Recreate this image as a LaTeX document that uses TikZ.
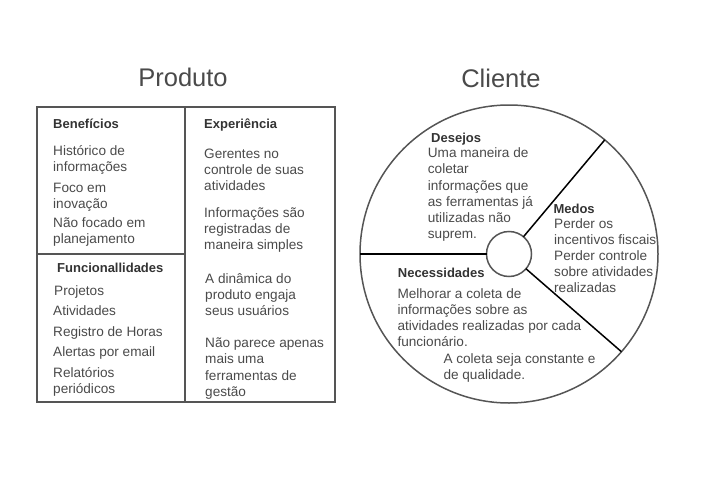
\documentclass[tikz,border=0pt]{standalone}
\usepackage{fontspec}
\setmainfont{Liberation Sans}
\usepackage{tikz}
\usetikzlibrary{positioning}
\definecolor{linegray}{HTML}{555555}
\definecolor{textgray}{HTML}{4A4A4A}
\definecolor{headgray}{HTML}{333333}
\newcommand{\lines}[1]{\begin{tabular}[t]{@{}l@{}}#1\end{tabular}}

\begin{document}
\begin{tikzpicture}[x=1pt, y=-1pt,
        title/.style={font=\fontsize{25.5}{30}\selectfont, color=textgray, inner sep=0},
        head/.style={anchor=base west, inner sep=0, font=\fontsize{13}{16}\selectfont\bfseries, color=headgray},
        item/.style={anchor=base west, inner sep=0, font=\fontsize{13.6}{16.2}\selectfont, color=textgray},
        panel/.style={draw=linegray, line width=2pt},
        ring/.style={circle, draw=linegray, line width=1.5pt, inner sep=0, outer sep=0},
        divider/.style={draw=black, line width=1.5pt}
    ]
        \useasboundingbox (0,0) rectangle (704,487);

        % Produto
        \node[title, anchor=base] (produto) at (183,86) {Produto};
        \draw[panel] (37,106.5) rectangle (335,401.5);
        \draw[panel] (185,106.5) -- (185,401.5);
        \draw[panel] (37,253.5) -- (185,253.5);

        % Beneficios
        \node[head] (beneficios) at (53,128.5) {Benefícios};
        \node[item] (ben1) at (53,155) {\lines{Histórico de\\informações}};
        \node[item] (ben2) at (53,192.7) {\lines{Foco em\\inovação}};
        \node[item] (ben3) at (53,227) {\lines{Não focado em\\planejamento}};

        % Funcionalidades
        \node[head] (funcoes) at (57,272.3) {Funcionallidades};
        \node[item] (fun1) at (54,295) {Projetos};
        \node[item] (fun2) at (53,315.7) {Atividades};
        \node[item] (fun3) at (53,336.7) {Registro de Horas};
        \node[item] (fun4) at (53,356.7) {Alertas por email};
        \node[item] (fun5) at (53,377.3) {\lines{Relatórios\\periódicos}};

        % Experiencia
        \node[head] (experiencia) at (204,128.3) {Experiência};
        \node[item] (exp1) at (204,158.5) {\lines{Gerentes no\\controle de suas\\atividades}};
        \node[item] (exp2) at (204,217.5) {\lines{Informações são\\registradas de\\maneira simples}};
        \node[item] (exp3) at (205,283.3) {\lines{A dinâmica do\\produto engaja\\seus usuários}};
        \node[item] (exp4) at (205,347.7) {\lines{Não parece apenas\\mais uma\\ferramentas de\\gestão}};

        % Cliente
        \node[title, anchor=base] (clientetitle) at (501,88) {Cliente};
        \node[ring, minimum size=298pt] (cliente) at (509,254) {};
        \node[ring, minimum size=45pt] (nucleo) at (509,254) {};
        \draw[divider] (nucleo.180) -- (cliente.180);
        \draw[divider] (nucleo.50.8) -- (cliente.50.8);
        \draw[divider] (nucleo.-41.2) -- (cliente.-41.2);

        % Desejos
        \node[head] (desejos) at (431,142.3) {Desejos};
        \node[item] (des1) at (427.7,157.7) {\lines{Uma maneira de\\coletar\\informações que\\as ferramentas já\\utilizadas não\\suprem.}};

        % Medos
        \node[head] (medos) at (553.3,213.3) {Medos};
        \node[item] (med1) at (554,228.3) {\lines{Perder os\\incentivos fiscais}};
        \node[item] (med2) at (554,260) {\lines{Perder controle\\sobre atividades\\realizadas}};

        % Necessidades
        \node[head] (necessidades) at (397.7,277.7) {Necessidades};
        \node[item] (nec1) at (397.3,298.3) {\lines{Melhorar a coleta de\\informações sobre as\\atividades realizadas por cada\\funcionário.}};
        \node[item] (nec2) at (443.3,363.3) {\lines{A coleta seja constante e\\de qualidade.}};
    \end{tikzpicture}
\end{document}
